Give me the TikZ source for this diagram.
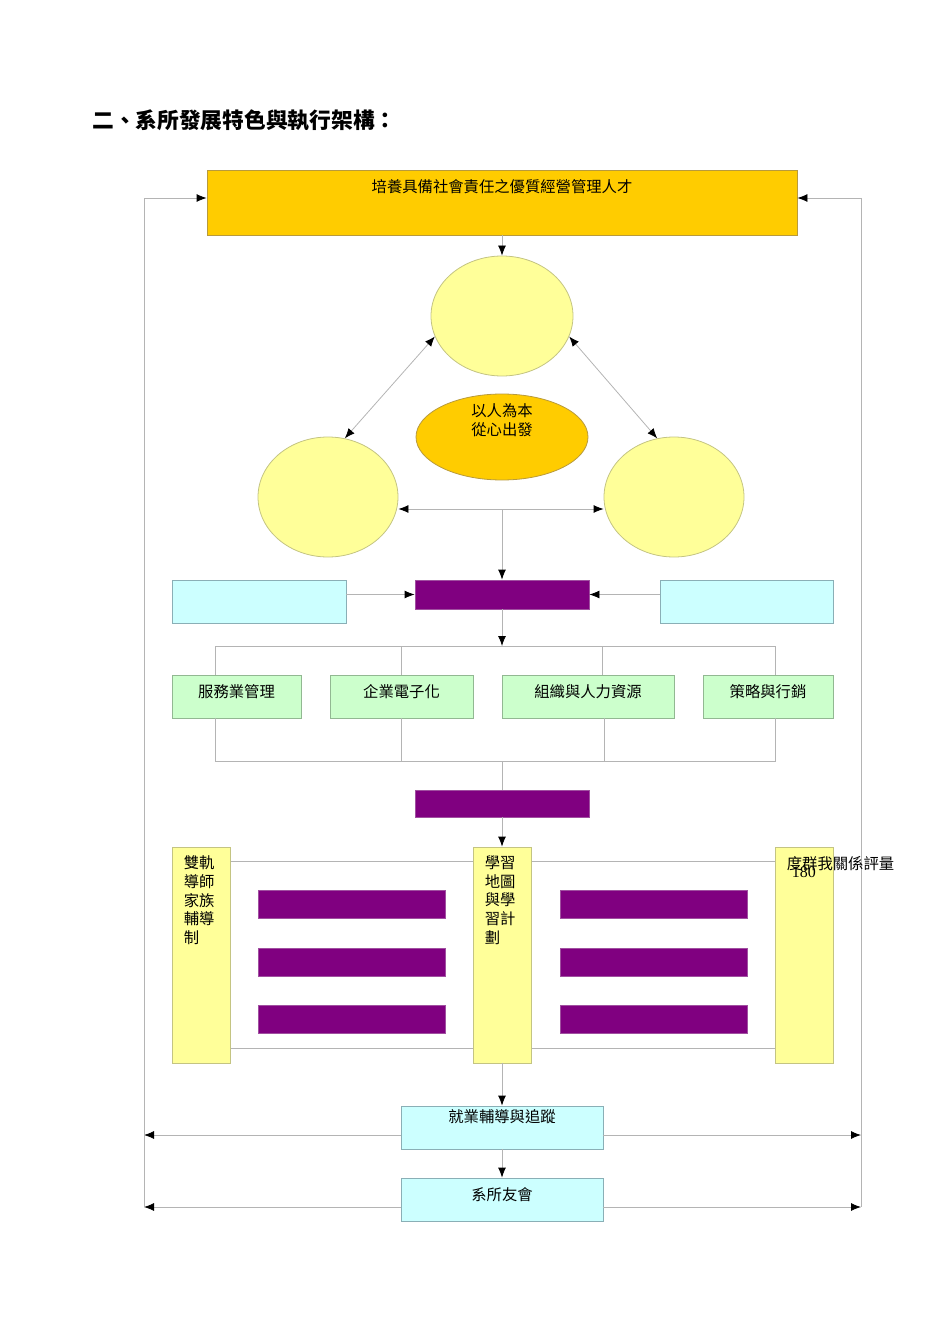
\documentclass[tikz,border=0pt]{standalone}
\usepackage{fontspec}
\setmainfont{Liberation Serif}
\newfontfamily\cjk{Noto Sans CJK TC}
\usepackage{tikz}
\usetikzlibrary{shapes.geometric, arrows.meta, backgrounds}

\newdimen\pxu \pxu=0.75pt
\definecolor{goldfill}{HTML}{FFCC00}
\definecolor{golddraw}{HTML}{B89A3C}
\definecolor{palefill}{HTML}{FFFF99}
\definecolor{paledraw}{HTML}{C4C482}
\definecolor{barfill}{HTML}{800080}
\definecolor{bardraw}{HTML}{A050A0}
\definecolor{cyanfill}{HTML}{CCFFFF}
\definecolor{cyandraw}{HTML}{8AAFB6}
\definecolor{greenfill}{HTML}{CCFFCC}
\definecolor{greendraw}{HTML}{92B892}
\definecolor{linegray}{HTML}{B4B4B4}
\newcommand{\boxfont}{\cjk\fontsize{11.5}{14}\selectfont}

\begin{document}
\begin{tikzpicture}[
    x=0.75pt, y=-0.75pt,
    box/.style={rectangle, draw, line width=0.6pt, inner sep=0pt},
    goldbox/.style={box, fill=goldfill, draw=golddraw},
    palebox/.style={box, fill=palefill, draw=paledraw},
    cyanbox/.style={box, fill=cyanfill, draw=cyandraw},
    greenbox/.style={box, fill=greenfill, draw=greendraw, minimum height=43\pxu},
    bar/.style={box, fill=barfill, draw=bardraw},
    oval/.style={ellipse, draw, line width=0.6pt, inner sep=0pt},
    toplbl/.style={anchor=north, inner sep=0pt, yshift=-10\pxu, font=\boxfont},
    sidelbl/.style={anchor=north west, inner sep=0pt, xshift=12\pxu, yshift=-9\pxu, font=\boxfont, align=left},
    line/.style={draw=linegray, line width=0.6pt},
    arrow/.style={line, -{Latex[length=7.5pt, width=6pt, color=black]}},
    biarrow/.style={line, {Latex[length=7.5pt, width=6pt, color=black]}-{Latex[length=7.5pt, width=6pt, color=black]}}
]
\useasboundingbox (0,0) rectangle (950,1344);

% Title
\node[anchor=west, inner sep=0pt, font=\cjk\bfseries\fontsize{16.3}{19}\selectfont] (title) at (92,120) {二、系所發展特色與執行架構：};

% Goal
\node[goldbox, minimum width=590\pxu, minimum height=65\pxu,
      label={[toplbl]north:培養具備社會責任之優質經營管理人才}] (goal) at (502,202.5) {};

% Core triangle
\node[oval, fill=palefill, draw=paledraw, minimum width=142\pxu, minimum height=120\pxu] (core) at (502,316) {};
\node[oval, fill=palefill, draw=paledraw, minimum width=140\pxu, minimum height=120\pxu] (left) at (328,497) {};
\node[oval, fill=palefill, draw=paledraw, minimum width=140\pxu, minimum height=120\pxu] (right) at (674,497) {};
\node[oval, fill=goldfill, draw=golddraw, minimum width=172\pxu, minimum height=86\pxu,
      label={[toplbl, align=center]north:以人為本\\從心出發}] (heart) at (502,437) {};
\coordinate (hub) at (502,509);

% Focus row
\node[bar, minimum width=174\pxu, minimum height=29\pxu] (mainbar) at (502,594.5) {};
\node[cyanbox, minimum width=174\pxu, minimum height=43\pxu] (inL) at (259,601.5) {};
\node[cyanbox, minimum width=173\pxu, minimum height=43\pxu] (inR) at (746.5,601.5) {};
\coordinate (split) at (502,646);

% Four fields
\node[greenbox, minimum width=129\pxu, label={[toplbl]north:服務業管理}] (svc) at (236.5,696.5) {};
\node[greenbox, minimum width=143\pxu, label={[toplbl]north:企業電子化}] (ebiz) at (401.5,696.5) {};
\node[greenbox, minimum width=172\pxu, label={[toplbl]north:組織與人力資源}] (org) at (588,696.5) {};
\node[greenbox, minimum width=130\pxu, label={[toplbl]north:策略與行銷}] (mkt) at (768,696.5) {};
\coordinate (merge) at (502,761);
\node[bar, minimum width=174\pxu, minimum height=27\pxu] (midbar) at (502,803.5) {};

% Learning support
\node[palebox, minimum width=58\pxu, minimum height=216\pxu,
      label={[sidelbl]north west:雙軌\\導師\\家族\\輔導\\制}] (dual) at (201,955) {};
\node[palebox, minimum width=58\pxu, minimum height=216\pxu,
      label={[sidelbl]north west:學習\\地圖\\與學\\習計\\劃}] (map) at (502,955) {};
\node[palebox, minimum width=58\pxu, minimum height=216\pxu,
      label={[anchor=north west, inner sep=0pt, xshift=17\pxu, yshift=-20\pxu, font=\fontsize{12}{14}\selectfont]north west:180},
      label={[sidelbl]north west:度群我關係評量}] (peer) at (804,955) {};
\foreach \y [count=\i] in {904,962,1019.5} {
  \node[bar, minimum width=187\pxu, minimum height=28\pxu] (lbar\i) at (351.5,\y) {};
  \node[bar, minimum width=187\pxu, minimum height=28\pxu] (rbar\i) at (653.5,\y) {};
}

% Career and alumni
\node[cyanbox, minimum width=202\pxu, minimum height=43\pxu,
      label={[toplbl, yshift=6\pxu]north:就業輔導與追蹤}] (employ) at (502,1127.5) {};
\node[cyanbox, minimum width=202\pxu, minimum height=43\pxu,
      label={[toplbl]north:系所友會}] (alumni) at (502,1199.5) {};
\coordinate (empY) at (502,1135);
\coordinate (lowL) at (144,1207);
\coordinate (lowR) at (861,1207);
\coordinate (upL) at (144,198);
\coordinate (upR) at (861,198);

% Arrows
\draw[arrow] (goal.south) -- (core.north);
\draw[biarrow] (core.197) -- (left.74);
\draw[biarrow] (core.343) -- (right.106);
\draw[biarrow] (left.east |- hub) -- (right.west |- hub);
\draw[arrow] (hub) -- (mainbar.north);
\draw[arrow] (inL.east |- mainbar) -- (mainbar.west);
\draw[arrow] (inR.west |- mainbar) -- (mainbar.east);
\draw[arrow] (mainbar.south) -- (split);
\foreach \n/\dx in {svc/-21.5, ebiz/0, org/14, mkt/7}
  \draw[line] ([xshift=\dx*\pxu]\n.north) |- (split);
\foreach \n/\dx in {svc/-21.5, ebiz/0, org/16, mkt/7}
  \draw[line] ([xshift=\dx*\pxu]\n.south) |- (merge);
\draw[line] (merge) -- (midbar.north);
\draw[arrow] (midbar.south) -- (map.north);
\begin{scope}[on background layer]
  \draw[line] ([yshift=-15\pxu]dual.north east) -- ([yshift=-15\pxu]peer.north west);
  \draw[line] ([yshift=15\pxu]dual.south east) -- ([yshift=15\pxu]peer.south west);
  \draw[line] (upR) -- (lowR);
\end{scope}
\draw[arrow] (map.south) -- (employ.north);
\draw[arrow] (employ.south) -- (alumni.north);
\draw[arrow] (empY -| employ.west) -- (empY -| lowL);
\draw[arrow] (empY -| employ.east) -- (empY -| lowR);
\draw[arrow] (lowL -| alumni.west) -- (lowL);
\draw[arrow] (lowR -| alumni.east) -- (lowR);
\draw[arrow] (lowL) -- (upL) -- (upL -| goal.west);
\draw[arrow] (upR) -- (upR -| goal.east);

\end{tikzpicture}
\end{document}
